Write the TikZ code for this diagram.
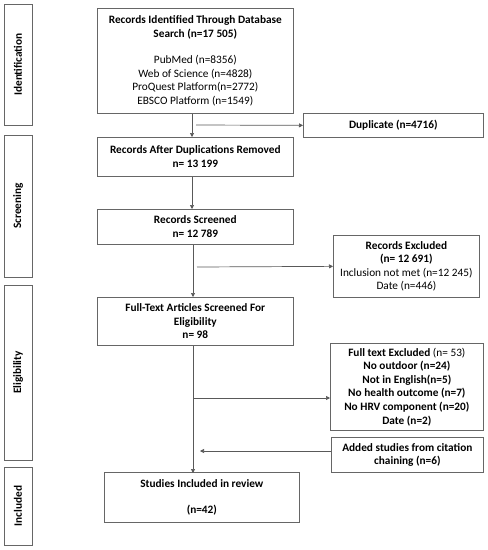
\documentclass[tikz,border=0pt]{standalone}
\usepackage{fontspec}
\setmainfont{Carlito}
\usetikzlibrary{arrows.meta,calc}
\begin{document}
\begin{tikzpicture}[x=1pt,y=-1pt,
 box/.style={draw=black!60, line width=0.7pt, align=center, inner sep=1pt, font=\fontsize{11.3}{13.6}\selectfont, anchor=north west},
 phase/.style={draw=black!60, line width=0.8pt, rotate=90, inner sep=0pt, font=\bfseries\fontsize{11.3}{13}\selectfont},
 arr/.style={draw=black!65, line width=0.7pt, -{Triangle[length=4pt,width=4pt]}},
 ln/.style={draw=black!65, line width=0.7pt}]
\useasboundingbox (0,0) rectangle (488,550);
% phase labels
\node[phase, minimum width=121, minimum height=28] (pid) at (18,64.5) {Identification};
\node[phase, minimum width=142, minimum height=28] (psc) at (18,206) {Screening};
\node[phase, minimum width=175, minimum height=28] (pel) at (18,372.5) {Eligibility};
\node[phase, minimum width=78, minimum height=28] (pin) at (18,506) {Included};
% main boxes
\node[box, minimum width=196, minimum height=105] (b1) at (97,8)
 {\textbf{Records Identified Through Database}\\\textbf{Search (n=17 505)}\\[13pt]
 PubMed (n=8356)\\Web of Science (n=4828)\\ProQuest Platform(n=2772)\\EBSCO Platform (n=1549)};
\node[box, minimum width=196, minimum height=39] (b2) at (97,137)
 {\textbf{Records After Duplications Removed}\\\textbf{n= 13 199}};
\node[box, minimum width=196, minimum height=35] (b3) at (97,209)
 {\textbf{Records Screened}\\\textbf{n= 12 789}};
\node[box, minimum width=196, minimum height=48] (b4) at (97,297)
 {\textbf{Full-Text Articles Screened For}\\\textbf{Eligibility}\\\textbf{n= 98}};
\node[box, minimum width=195, minimum height=50] (b5) at (104,472)
 {\textbf{Studies Included in review}\\[13pt]\textbf{(n=42)}};
% side boxes
\node[box, minimum width=180, minimum height=24] (dup) at (303,113)
 {\textbf{Duplicate (n=4716)}};
\node[box, minimum width=146, minimum height=62] (rex) at (333,235)
 {\textbf{Records Excluded}\\\textbf{(n= 12 691)}\\Inclusion not met (n=12 245)\\Date (n=446)};
\node[box, minimum width=153, minimum height=87] (ftx) at (330,343)
 {\textbf{Full text Excluded} (n= 53)\\\textbf{No outdoor (n=24)}\\\textbf{Not in English(n=5)}\\\textbf{No health outcome (n=7)}\\\textbf{No HRV component (n=20)}\\\textbf{Date (n=2)}};
\node[box, minimum width=152, minimum height=35] (add) at (331,437)
 {\textbf{Added studies from citation}\\\textbf{chaining (n=6)}};
% connectors
\coordinate (c1) at (192,125);
\coordinate (c2) at (193,267);
\coordinate (c3) at (193,398);
\coordinate (c4) at (200,451);
\draw[arr] (b1.south -| c1) -- (b2.north -| c1);
\draw[arr] (c1 -| 196,0) -- (dup.west);
\draw[arr] (b2.south -| c1) -- (b3.north -| c1);
\draw[arr] (b3.south -| c2) -- (b4.north -| c2);
\draw[arr] (c2 -| 197,0) -- (rex.west);
\draw[arr] (b4.south -| c3) -- ([yshift=-1pt]b5.north -| c3);
\draw[arr] (c3) -- (ftx.west |- c3);
\draw[arr] (add.west |- c4) -- (c4);
\end{tikzpicture}
\end{document}
